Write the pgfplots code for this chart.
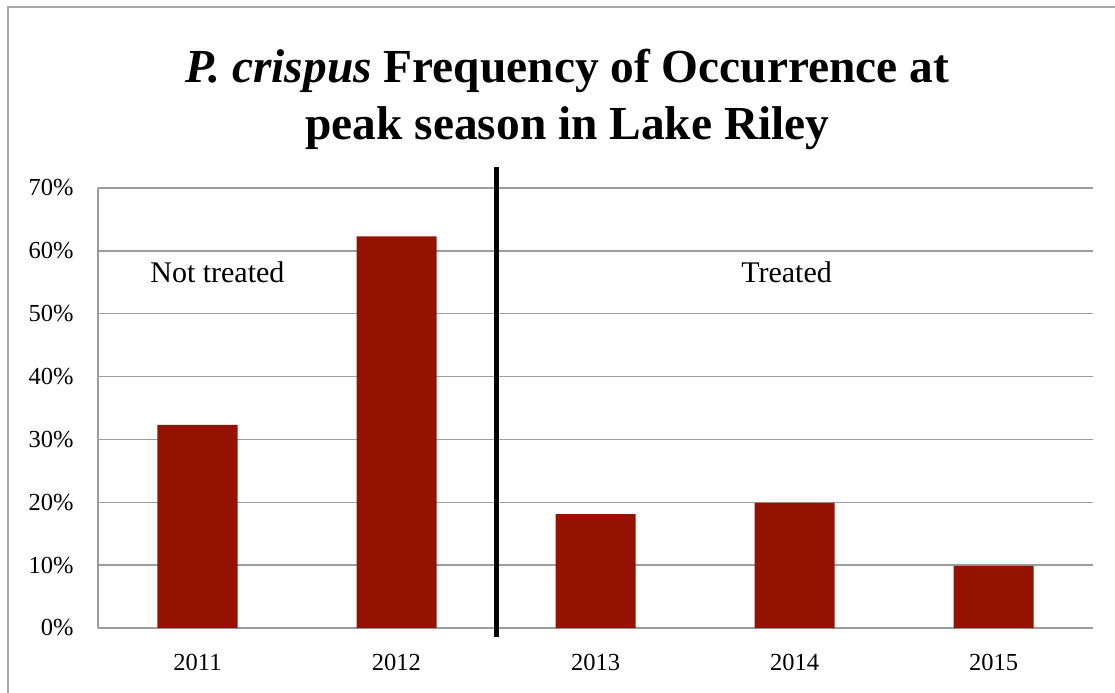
\documentclass[border=0pt]{standalone}
\usepackage{fontspec}
\setmainfont{Liberation Serif}
\usepackage{pgfplots}
\pgfplotsset{compat=1.18}
\definecolor{barred}{HTML}{941200}
\definecolor{gridgray}{HTML}{9C9C9C}
\definecolor{framegray}{HTML}{A8A8A8}
\begin{document}
\begin{tikzpicture}
\useasboundingbox (-49pt,-32pt) rectangle (508.5pt,314pt);
\draw[framegray, line width=0.75pt] (-45pt,-60pt) rectangle (560pt,310.5pt);
\node[anchor=base, font=\fontsize{23.7pt}{28pt}\selectfont\bfseries] at (234.75pt,272.5pt) {\textit{P. crispus} Frequency of Occurrence at};
\node[anchor=base, font=\fontsize{23.7pt}{28pt}\selectfont\bfseries] at (234.75pt,244pt) {peak season in Lake Riley};
\begin{axis}[
  at={(0pt,0pt)}, anchor=south west,
  scale only axis, width=497.5pt, height=220pt,
  xmin=-0.5, xmax=4.5, ymin=0, ymax=70,
  ybar, bar width=40pt,
  xtick={0,1,2,3,4}, xticklabels={2011,2012,2013,2014,2015},
  ytick={0,10,20,30,40,50,60,70},
  yticklabels={0\%,10\%,20\%,30\%,40\%,50\%,60\%,70\%},
  axis x line*=bottom, axis y line*=left,
  axis line style={-, draw=gridgray, line width=0.75pt},
  ymajorgrids, major grid style={draw=gridgray, line width=0.75pt},
  major tick length=0pt,
  tick style={draw=none},
  ticklabel style={font=\fontsize{12.25pt}{14pt}\selectfont, inner sep=0pt},
  yticklabel style={anchor=east, xshift=-12pt},
  xticklabel style={anchor=north, yshift=-13pt},
  clip=false,
]
\addplot[fill=barred, draw=none] coordinates {(0,32.3) (1,62.3) (2,18.1) (3,19.9) (4,9.9)};
\draw[black, line width=2.5pt] (axis cs:1.5,73.3) -- (axis cs:1.5,-1.4);
\node[anchor=base, font=\fontsize{15pt}{18pt}\selectfont] at (axis cs:0.1,54.9) {Not treated};
\node[anchor=base, font=\fontsize{15pt}{18pt}\selectfont] at (axis cs:2.96,54.9) {Treated};
\end{axis}
\end{tikzpicture}
\end{document}
